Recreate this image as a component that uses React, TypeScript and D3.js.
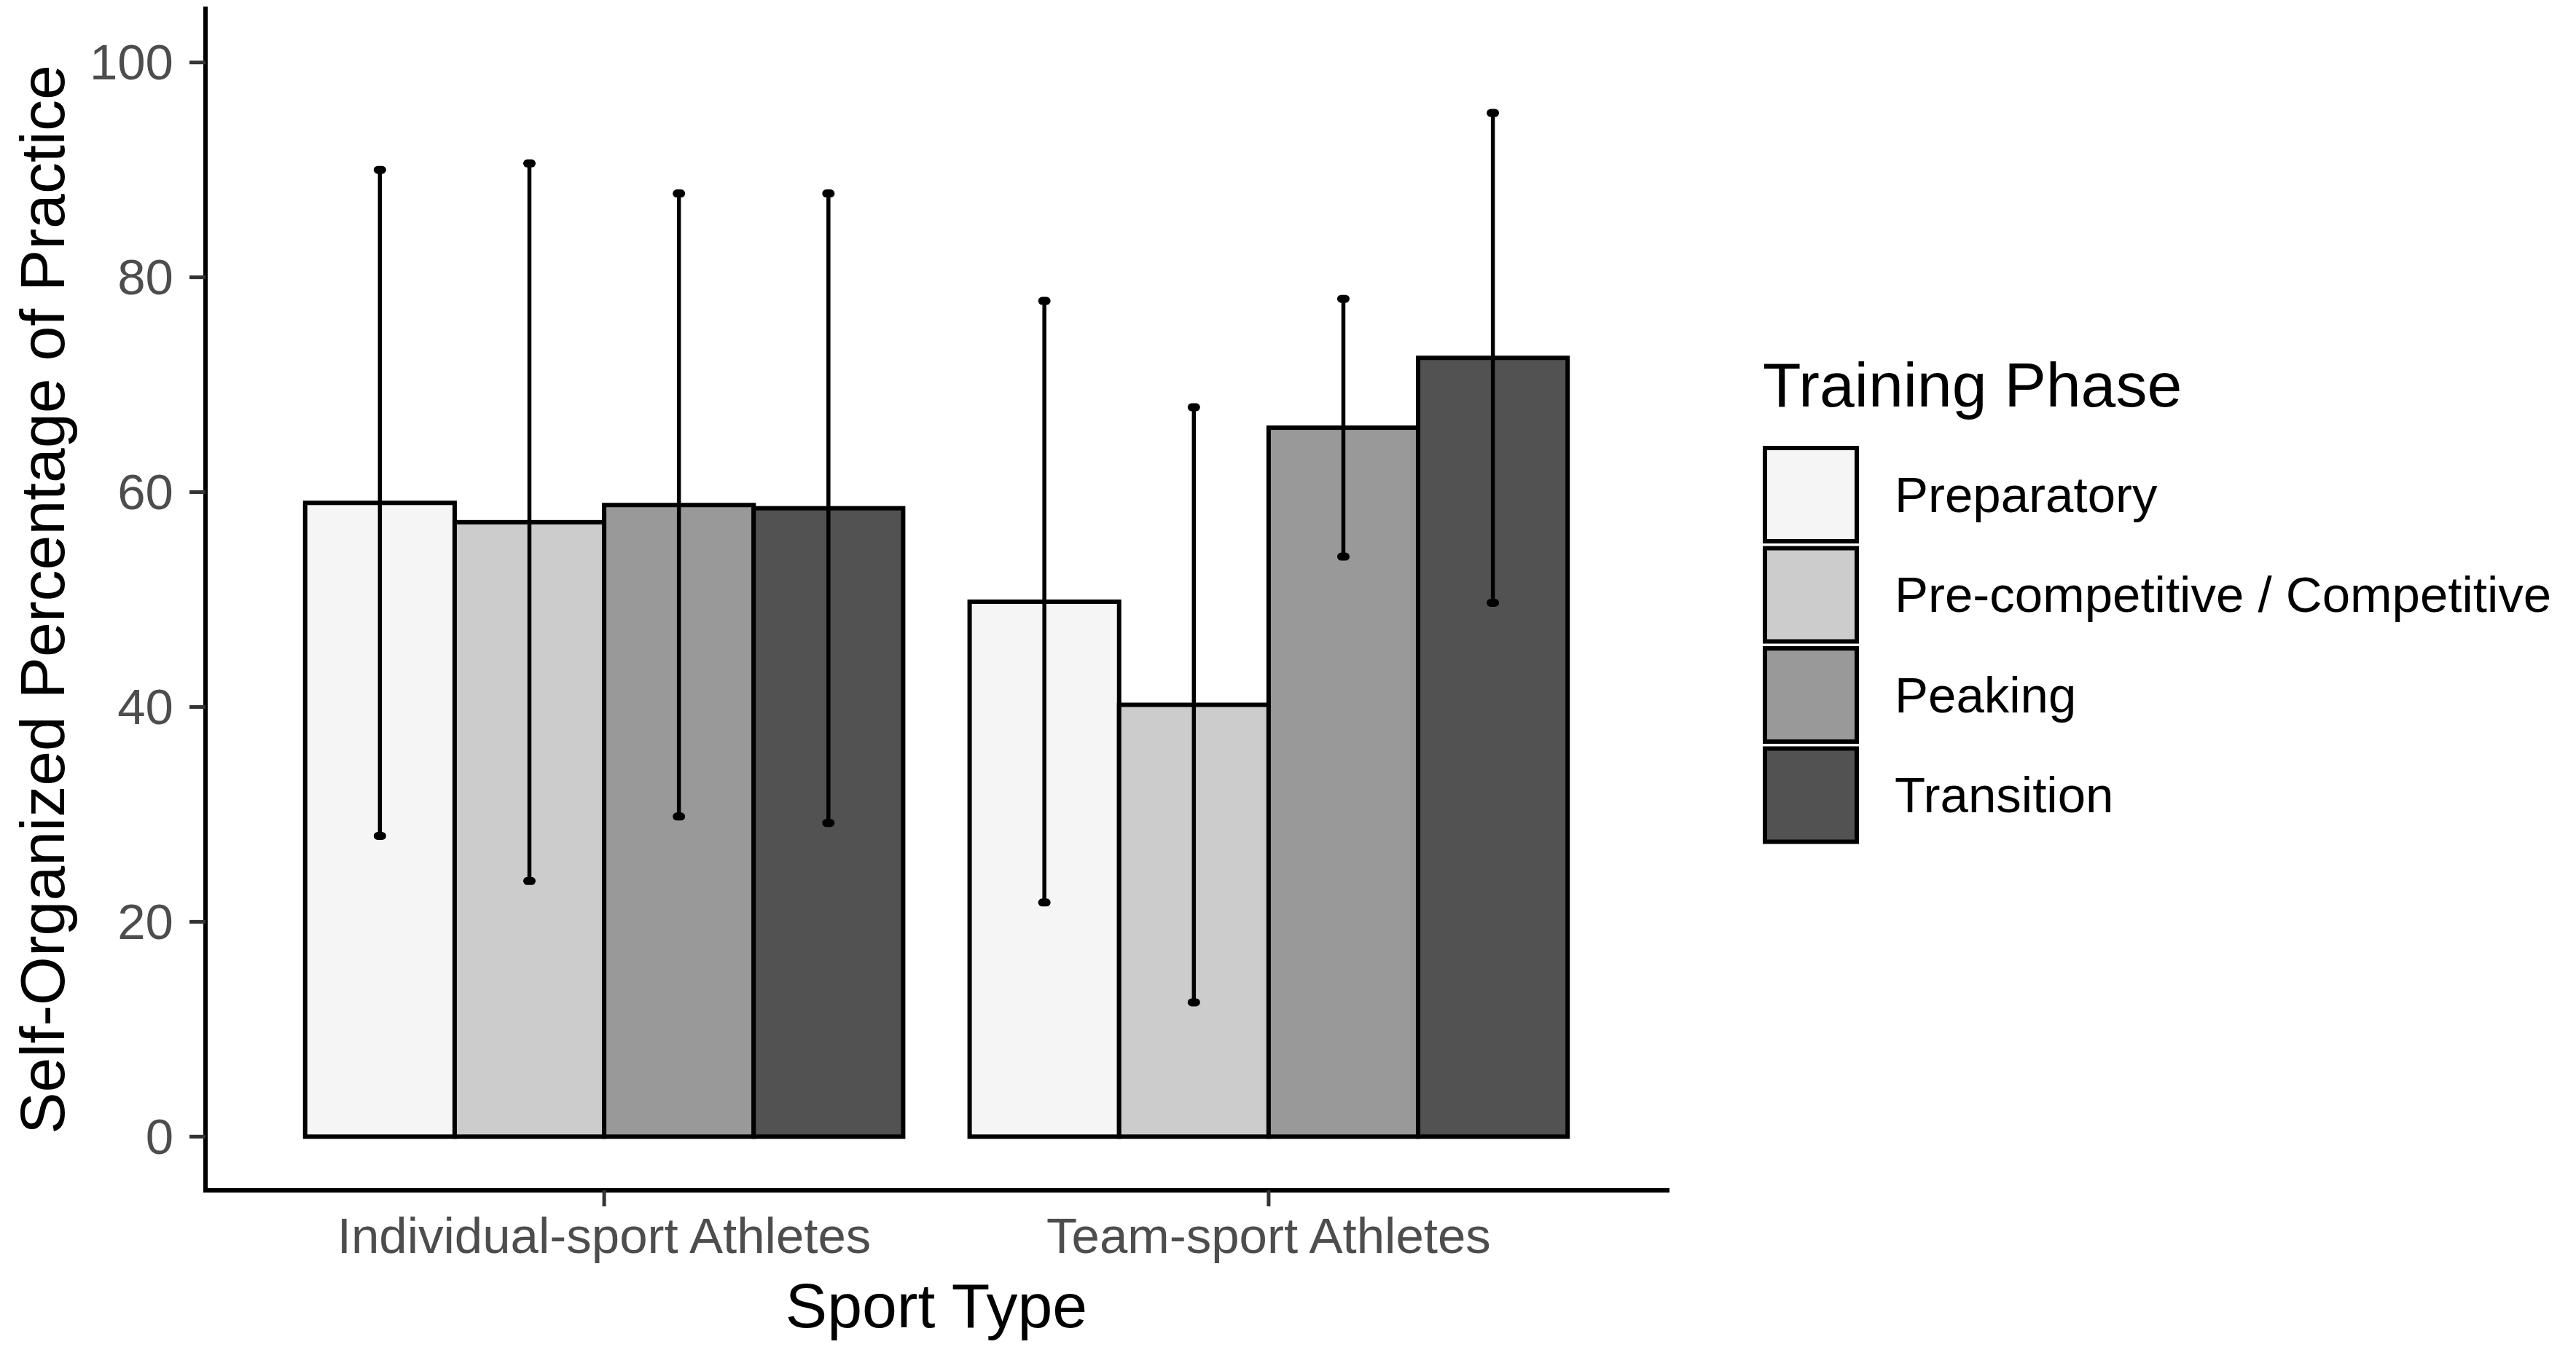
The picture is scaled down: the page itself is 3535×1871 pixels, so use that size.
import * as d3 from 'd3';

const sportTypes = ['Individual-sport Athletes', 'Team-sport Athletes'];
const phases = ['Preparatory', 'Pre-competitive / Competitive', 'Peaking', 'Transition'];
const phaseFills = ['#F5F5F5', '#CCCCCC', '#999999', '#525252'];

// mean per phase, one array per sport type
const individualMeans = [59.0, 57.2, 58.8, 58.5];
const teamMeans = [49.8, 40.2, 66.0, 72.5];
// symmetric error bar half-widths (SD)
const individualSD = [31.0, 33.4, 29.0, 29.3];
const teamSD = [28.0, 27.7, 12.0, 22.8];

const yTicks = [0, 20, 40, 60, 80, 100];

const W = 3535;
const H = 1871;
const font = "'Liberation Sans', Arial, Helvetica, sans-serif";

export default function App() {
  const left = 282;
  const right = 2288;
  const top = 12;
  const bottom = 1634;

  const y = d3.scaleLinear().domain([-5, 105]).range([bottom, top]);
  const x = d3.scalePoint<string>().domain(sportTypes).range([left, right]).padding(0.6);
  const step = x.step();
  const inner = d3
    .scaleBand<string>()
    .domain(phases)
    .range([-0.45 * step, 0.45 * step])
    .padding(0);

  const rows = [
    { sport: sportTypes[0], means: individualMeans, sds: individualSD },
    { sport: sportTypes[1], means: teamMeans, sds: teamSD }
  ];

  const legendX = 2422;
  const legendY = 615;
  const keyStep = 137.5;
  const keyW = 126;
  const keyH = 128;

  return (
    <svg
      width={W}
      height={H}
      style={{ position: 'absolute', left: 0, top: 0, background: '#fff' }}
      fontFamily={font}
    >
      <rect x={0} y={0} width={W} height={H} fill="#fff" />

      {/* bars */}
      {rows.map((r) =>
        phases.map((p, i) => {
          const x0 = x(r.sport)! + inner(p)!;
          return (
            <rect
              key={r.sport + p}
              x={x0}
              y={y(r.means[i])}
              width={inner.bandwidth()}
              height={y(0) - y(r.means[i])}
              fill={phaseFills[i]}
              stroke="#000"
              strokeWidth={6}
            />
          );
        })
      )}

      {/* error bars */}
      {rows.map((r) =>
        phases.map((p, i) => {
          const cx = x(r.sport)! + inner(p)! + inner.bandwidth() / 2;
          const hi = y(r.means[i] + r.sds[i]);
          const lo = y(r.means[i] - r.sds[i]);
          return (
            <g key={'e' + r.sport + p} stroke="#000" strokeLinecap="round">
              <line x1={cx} x2={cx} y1={hi} y2={lo} strokeWidth={5.5} />
              <line x1={cx - 3} x2={cx + 3} y1={hi} y2={hi} strokeWidth={11} />
              <line x1={cx - 3} x2={cx + 3} y1={lo} y2={lo} strokeWidth={11} />
            </g>
          );
        })
      )}

      {/* axes */}
      <line x1={left} x2={left} y1={top} y2={bottom} stroke="#000" strokeWidth={6} strokeLinecap="square" />
      <line x1={left} x2={right} y1={bottom} y2={bottom} stroke="#000" strokeWidth={6} strokeLinecap="square" />

      {yTicks.map((t) => (
        <g key={'yt' + t}>
          <line x1={left - 22} x2={left} y1={y(t)} y2={y(t)} stroke="#333" strokeWidth={5} />
          <text
            x={left - 44}
            y={y(t)}
            textAnchor="end"
            dominantBaseline="central"
            fontSize={69}
            fill="#4D4D4D"
          >
            {t}
          </text>
        </g>
      ))}

      {sportTypes.map((s) => (
        <g key={'xt' + s}>
          <line x1={x(s)} x2={x(s)} y1={bottom} y2={bottom + 22} stroke="#333" strokeWidth={5} />
          <text x={x(s)} y={1720} textAnchor="middle" fontSize={69} fill="#4D4D4D">
            {s}
          </text>
        </g>
      ))}

      <text x={(left + right) / 2} y={1822} textAnchor="middle" fontSize={86} fill="#000">
        Sport Type
      </text>
      <text
        transform={`translate(88,${(top + bottom) / 2}) rotate(-90)`}
        textAnchor="middle"
        fontSize={86}
        fill="#000"
      >
        Self-Organized Percentage of Practice
      </text>

      {/* legend */}
      <text x={legendX - 3} y={558} fontSize={86} fill="#000">
        Training Phase
      </text>
      {phases.map((p, i) => (
        <g key={'lg' + p}>
          <rect
            x={legendX}
            y={legendY + i * keyStep}
            width={keyW}
            height={keyH}
            fill={phaseFills[i]}
            stroke="#000"
            strokeWidth={6}
          />
          <text
            x={2600}
            y={legendY + i * keyStep + keyH / 2}
            dominantBaseline="central"
            fontSize={69}
            fill="#000"
          >
            {p}
          </text>
        </g>
      ))}
    </svg>
  );
}
